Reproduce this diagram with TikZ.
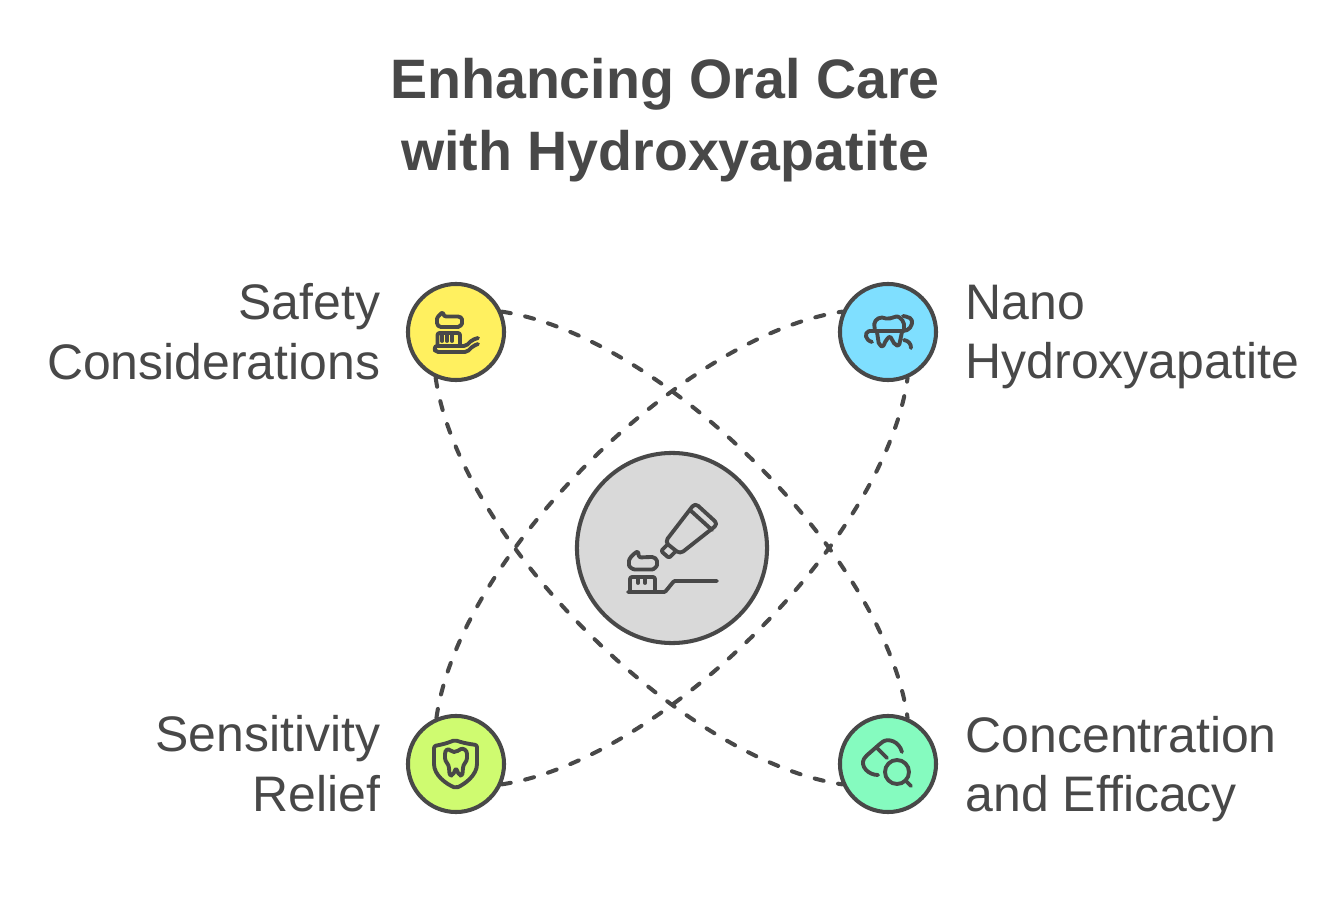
\documentclass[tikz,border=0pt]{standalone}
\usepackage{fontspec}
\setmainfont{Liberation Sans}
\usetikzlibrary{positioning}
\definecolor{ink}{HTML}{484848}
\definecolor{sunny}{HTML}{FFF05F}
\definecolor{sky}{HTML}{7FDFFF}
\definecolor{lime}{HTML}{CFFB70}
\definecolor{mint}{HTML}{85FBBF}
\definecolor{ash}{HTML}{D9D9D9}
\tikzset{
	bubble/.style={circle,draw=ink,line width=1.15pt,minimum size=0.96cm,inner sep=0pt},
	link/.style={draw=ink,line width=1.15pt,line cap=round,dash pattern=on 2.6pt off 4.2pt},
	icon/.style={draw=ink,line width=1.1pt,line cap=round,line join=round,rounded corners=0.6pt},
	caption/.style={text=ink,inner sep=0pt,font=\fontsize{14.2}{17}\selectfont},
}
\begin{document}
\begin{tikzpicture}[x=0.01cm,y=-0.01cm]
	\useasboundingbox (0,0) rectangle (1344,915);
	\node[text=ink,align=center,font=\bfseries\fontsize{15.8}{20.4}\selectfont] (title) at (665,120) {Enhancing Oral Care\\with Hydroxyapatite};
	% circles
	\node[bubble,fill=sunny] (safety) at (456,332) {};
	\node[bubble,fill=sky] (nano) at (888,332) {};
	\node[bubble,fill=lime] (relief) at (456,764) {};
	\node[bubble,fill=mint] (efficacy) at (888,764) {};
	\node[bubble,fill=ash,minimum size=1.9cm] (hub) at (672,548) {};
	% labels
	\node[caption,align=right,left=0.25cm of safety] (safetytext) {Safety\\Considerations};
	\node[caption,align=left,right=0.27cm of nano,yshift=-0.05cm] (nanotext) {Nano\\Hydroxyapatite};
	\node[caption,align=right,left=0.25cm of relief] (relieftext) {Sensitivity\\Relief};
	\node[caption,align=left,right=0.27cm of efficacy,yshift=-0.05cm] (efficacytext) {Concentration\\and Efficacy};
	% dashed arcs
	\draw[link] (safety.24) .. controls (660,335) and (885,556) .. (efficacy.67);
	\draw[link] (safety.246) .. controls (459,540) and (684,761) .. (efficacy.204);
	\draw[link] (relief.113) .. controls (459,556) and (684,335) .. (nano.156);
	\draw[link] (relief.-24) .. controls (660,761) and (885,540) .. (nano.-67);
	% safety icon
	\draw[icon] (443,312) .. controls (439,315) and (437,318) .. (437,321) .. controls (437,325) and (439,327) .. (443,327) -- (456,327) .. controls (460,327) and (462,324) .. (462,321.5) .. controls (462,318) and (460,316.5) .. (456,316.5) -- (444,316.5) -- cycle;
	\draw[icon] (437.5,346) -- (437.5,333) -- (460,333) -- (460,346);
	\draw[icon] (442,333) -- (442,341) (447,333) -- (447,341) (452,333) -- (452,341);
	\draw[icon] (436,346) -- (466,346) -- (472,340) -- (478,338) (436,346) -- (434,349) -- (436,352) -- (467,352) -- (473,346) -- (478,344);
	% nano icon
	\draw[icon] (875,331) -- (874,322) -- (880,317) -- (888,319) -- (898,316) -- (904,322) -- (904,331);
	\draw[icon] (869,331) -- (905,331) .. controls (912,328) and (914,320) .. (908,317) -- (903,316);
	\draw[icon] (869,331) .. controls (864,333) and (865,340) .. (872,342);
	\draw[icon] (877,332) -- (879,345) -- (883,347) -- (886,340) -- (890,336) -- (895,345) -- (899,346) -- (902,332);
	\draw[icon] (904,340) .. controls (909,341) and (911,344) .. (911,348);
	% relief icon
	\draw[icon] (434,746) .. controls (445,744) and (450,742) .. (455,740) .. controls (460,742) and (468,744) .. (477,745) -- (477,762) .. controls (477,775) and (465,784) .. (456,788) .. controls (446,784) and (434,775) .. (434,762) -- cycle;
	\draw[icon] (452,752) .. controls (448,748) and (445,750) .. (445,756) .. controls (445,762) and (449,764) .. (449,770) -- (450,776) -- (453,775) -- (456,768) -- (459,775) -- (462,776) -- (463,770) .. controls (463,764) and (467,762) .. (467,756) .. controls (467,750) and (463,748) .. (459,750) -- (456,752) -- cycle;
	% efficacy icon
	\draw[icon] (878,775) .. controls (868,775) and (860,766) .. (865,757) -- (881,743) .. controls (888,738) and (899,741) .. (902,752);
	\draw[icon] (877,748) -- (887,758);
	\draw[icon] (897,772) circle (12);
	\draw[icon] (906,781) -- (911,786);
	% hub icon
	\draw[icon,rounded corners=1.2pt] (665,542) -- (695,503) -- (718,524) -- (680,554) -- cycle;
	\draw[icon] (690,510) -- (712,530);
	\draw[icon] (667,545) -- (661,551) -- (669,558) -- (676,551);
	\draw[icon] (638,551) .. controls (632,555) and (629,559) .. (629,563) .. controls (629,567) and (633,569.5) .. (637,569.5) -- (650,569.5) .. controls (654,569.5) and (657,566) .. (657,563) .. controls (657,559) and (654,557) .. (650,557) -- (639,557.5) -- cycle;
	\draw[icon] (630,591) -- (630,577) -- (655,577) -- (655,591);
	\draw[icon] (638,577) -- (638,583) (645,577) -- (645,583);
	\draw[icon,rounded corners=0.3pt] (628,592) -- (665,592) -- (674,581) -- (717,581);
\end{tikzpicture}
\end{document}
